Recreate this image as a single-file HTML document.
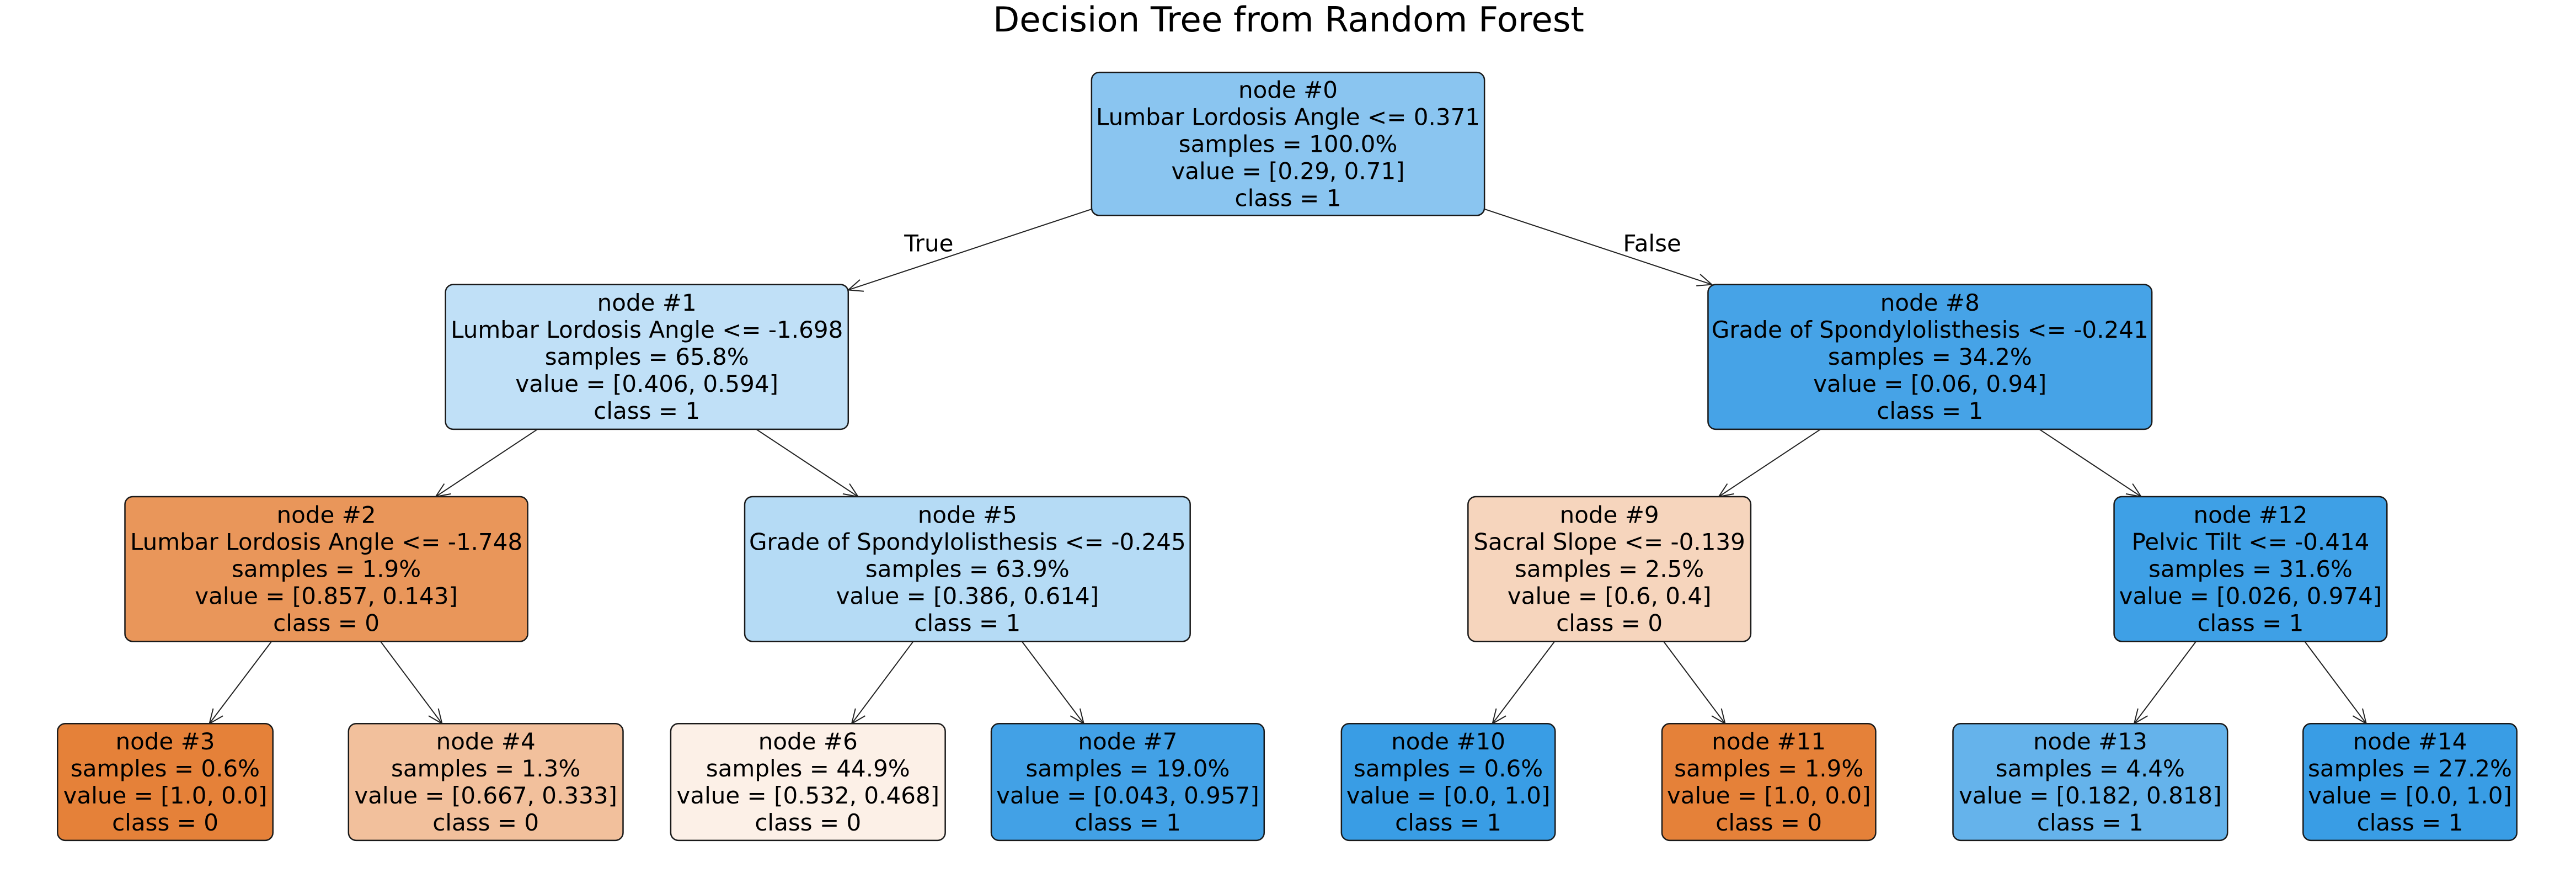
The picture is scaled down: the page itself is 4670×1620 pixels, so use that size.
<!DOCTYPE html>
<html><head><meta charset="utf-8">
<style>
html,body{margin:0;padding:0;background:#fff;}
svg{display:block;}
text{font-family:"DejaVu Sans","Liberation Sans",sans-serif;fill:#000;}
</style></head>
<body>
<svg id="chart" width="4670" height="1620" viewBox="0 0 4670 1620" xmlns="http://www.w3.org/2000/svg">
<rect width="4670" height="1620" fill="#fff"/>
<text x="2336" y="57" font-size="62.5" text-anchor="middle">Decision Tree from Random Forest</text>
<g id="edges"></g>
<g id="nodes"></g>
</svg>
<script>
// ---- tree data ----
const nodeIds = [0,1,2,3,4,5,6,7,8,9,10,11,12,13,14];
const parents = [-1,0,1,2,2,1,5,5,0,8,9,9,8,12,12];
const splitRules = [
  "Lumbar Lordosis Angle <= 0.371",
  "Lumbar Lordosis Angle <= -1.698",
  "Lumbar Lordosis Angle <= -1.748",
  "", "",
  "Grade of Spondylolisthesis <= -0.245",
  "", "",
  "Grade of Spondylolisthesis <= -0.241",
  "Sacral Slope <= -0.139",
  "", "",
  "Pelvic Tilt <= -0.414",
  "", ""
];
const samples = ["100.0%","65.8%","1.9%","0.6%","1.3%","63.9%","44.9%","19.0%","34.2%","2.5%","0.6%","1.9%","31.6%","4.4%","27.2%"];
const value0 = [0.29,0.406,0.857,1.0,0.667,0.386,0.532,0.043,0.06,0.6,0.0,1.0,0.026,0.182,0.0];
const value1 = [0.71,0.594,0.143,0.0,0.333,0.614,0.468,0.957,0.94,0.4,1.0,0.0,0.974,0.818,1.0];
const valueText = ["[0.29, 0.71]","[0.406, 0.594]","[0.857, 0.143]","[1.0, 0.0]","[0.667, 0.333]","[0.386, 0.614]","[0.532, 0.468]","[0.043, 0.957]","[0.06, 0.94]","[0.6, 0.4]","[0.0, 1.0]","[1.0, 0.0]","[0.026, 0.974]","[0.182, 0.818]","[0.0, 1.0]"];
const classes = [1,1,0,0,0,1,0,1,1,0,1,0,1,1,1];

// ---- layout (display units, scaled by S) ----
const S = 4670/1567;
const boxX0 = [664,271,76,35,212,453,408,603,1039,893,816,1011,1286,1188,1401];
const boxX1 = [903,516,321,166,379,724,575,769,1309,1065,946,1141,1452,1355,1531];
const levelY0 = [44,173,302,440];
const levelY1 = [131,261,390,511];
const depth = [0,1,2,3,3,2,3,3,1,2,3,3,2,3,3];

const NS = "http://www.w3.org/2000/svg";
const edgesG = document.getElementById('edges');
const nodesG = document.getElementById('nodes');
function mk(tag, attrs){const e=document.createElementNS(NS,tag);for(const k in attrs)e.setAttribute(k,attrs[k]);return e;}

function box(i){return {x0:boxX0[i]*S,x1:boxX1[i]*S,y0:levelY0[depth[i]]*S,y1:levelY1[depth[i]]*S};}
function fillColor(i){
  const a=value0[i], b=value1[i];
  const mx=Math.max(a,b), mn=Math.min(a,b);
  const alpha = mn>=1?0:(mx-mn)/(1-mn);
  const base = a>=b?[229,129,57]:[57,157,229];
  const c = base.map(v=>Math.round(alpha*v+(1-alpha)*255));
  return `rgb(${c[0]},${c[1]},${c[2]})`;
}
function clipT(b, cx, cy, dx, dy){
  let t=Infinity;
  const hw=(b.x1-b.x0)/2, hh=(b.y1-b.y0)/2;
  if(dx!==0) t=Math.min(t, hw/Math.abs(dx));
  if(dy!==0) t=Math.min(t, hh/Math.abs(dy));
  return t;
}

// edges
nodeIds.forEach(i=>{
  const p=parents[i]; if(p<0) return;
  const bp=box(p), bc=box(i);
  const pcx=(bp.x0+bp.x1)/2, pcy=(bp.y0+bp.y1)/2;
  const ccx=(bc.x0+bc.x1)/2, ccy=(bc.y0+bc.y1)/2;
  const dx=ccx-pcx, dy=ccy-pcy;
  const t0=clipT(bp,pcx,pcy,dx,dy);
  const t1=1-clipT(bc,ccx,ccy,-dx,-dy);
  const sx=pcx+dx*t0, sy=pcy+dy*t0, ex=pcx+dx*t1, ey=pcy+dy*t1;
  const line=mk('line',{x1:sx,y1:sy,x2:ex,y2:ey,stroke:'#222','stroke-width':2});
  
  
  edgesG.appendChild(line);
  const L=Math.hypot(dx,dy), ux=dx/L, uy=dy/L, hl=26, hw=11;
  const bx=ex-ux*hl, by=ey-uy*hl;
  const head=mk('polyline',{points:`${bx-uy*hw},${by+ux*hw} ${ex},${ey} ${bx+uy*hw},${by-ux*hw}`,fill:'none',stroke:'#222','stroke-width':2});
  
  
  edgesG.appendChild(head);
});

// True / False labels
const tl=mk('text',{x:565*S,y:148*S,'font-size':42,'text-anchor':'middle','dominant-baseline':'central'});
tl.textContent='True';


edgesG.appendChild(tl);
const fl=mk('text',{x:1005*S,y:148*S,'font-size':42,'text-anchor':'middle','dominant-baseline':'central'});
fl.textContent='False';


edgesG.appendChild(fl);

// nodes
nodeIds.forEach(i=>{
  const b=box(i);
  const g=mk('g',{});
  
  
  const r=mk('rect',{x:b.x0,y:b.y0,width:b.x1-b.x0,height:b.y1-b.y0,rx:14,ry:14,fill:fillColor(i),stroke:'#1a1a1a','stroke-width':2.5});
  
  
  g.appendChild(r);
  const lines=['node #'+nodeIds[i]];
  if(splitRules[i]) lines.push(splitRules[i]);
  lines.push('samples = '+samples[i]);
  lines.push('value = '+valueText[i]);
  lines.push('class = '+classes[i]);
  const cx=(b.x0+b.x1)/2, cy=(b.y0+b.y1)/2, lh=49;
  lines.forEach((s,k)=>{
    const t=mk('text',{x:cx,y:cy+(k-(lines.length-1)/2)*lh,'font-size':42,'text-anchor':'middle','dominant-baseline':'central'});
    t.textContent=s;
    
    
    g.appendChild(t);
  });
  nodesG.appendChild(g);
});
</script>
</body></html>
